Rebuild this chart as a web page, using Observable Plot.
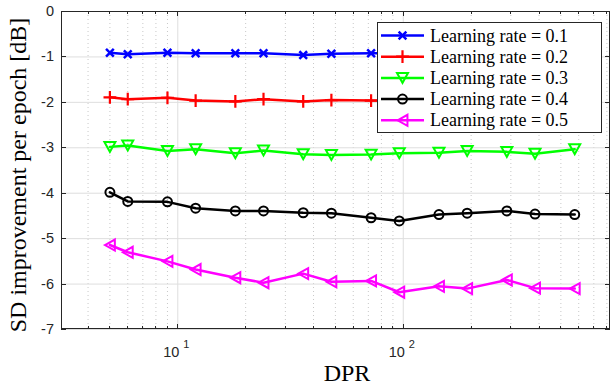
<!DOCTYPE html>
<html><head><meta charset="utf-8">
<script src="https://cdn.jsdelivr.net/npm/d3@7"></script>
<script src="https://cdn.jsdelivr.net/npm/@observablehq/plot@0.6"></script>
<style>body{margin:0;background:#fff} svg{display:block}</style>
</head><body><div id="chart"></div>
<script>
const dpr = [5, 6, 9, 12, 18, 24, 36, 48, 72, 96, 144, 192, 288, 384, 576];
const lr01 = [-0.91, -0.94, -0.91, -0.92, -0.92, -0.92, -0.96, -0.93, -0.92, -0.92, -0.93, -0.92, -0.93, -0.92, -0.92];
const lr02 = [-1.89, -1.93, -1.90, -1.96, -1.98, -1.93, -1.98, -1.95, -1.96, -1.96, -1.95, -1.96, -1.97, -1.96, -1.96];
const lr03 = [-2.98, -2.95, -3.07, -3.03, -3.12, -3.06, -3.14, -3.16, -3.15, -3.12, -3.11, -3.07, -3.09, -3.13, -3.03];
const lr04 = [-3.98, -4.18, -4.19, -4.33, -4.39, -4.39, -4.43, -4.44, -4.54, -4.61, -4.47, -4.44, -4.39, -4.46, -4.47];
const lr05 = [-5.14, -5.30, -5.50, -5.68, -5.86, -5.97, -5.77, -5.95, -5.93, -6.18, -6.05, -6.10, -5.91, -6.09, -6.10];
const names = ["Learning rate = 0.1", "Learning rate = 0.2", "Learning rate = 0.3", "Learning rate = 0.4", "Learning rate = 0.5"];
const colors = ["#0000ff", "#ff0000", "#00ff00", "#000000", "#ff00ff"];
const xMajorTicks = [10, 100];
const xTickExp = [1, 2];
const xMinorTicks = [4, 5, 6, 7, 8, 9, 20, 30, 40, 50, 60, 70, 80, 90, 200, 300, 400, 500, 600, 700, 800];
const yTicks = [0, -1, -2, -3, -4, -5, -6, -7];

const series = [lr01, lr02, lr03, lr04, lr05];
const rows = [];
series.forEach((vals, i) => dpr.forEach((d, j) => rows.push({dpr: d, sd: vals[j], name: names[i]})));

const triDown = {draw(c, size) { const r = Math.sqrt(size / Math.PI); c.moveTo(-r, -r * 0.9); c.lineTo(r, -r * 0.9); c.lineTo(0, r * 0.9); c.closePath(); }};
const triLeft = {draw(c, size) { const r = Math.sqrt(size / Math.PI); c.moveTo(-r * 0.9, 0); c.lineTo(r * 0.9, -r); c.lineTo(r * 0.9, r); c.closePath(); }};
const symbols = [d3.symbolTimes, d3.symbolPlus, triDown, d3.symbolCircle, triLeft];
const radii = [3.6, 4.2, 5.5, 4.5, 5.5];
const mWidths = [2.5, 2.2, 2, 2, 2];

const W = 611, H = 387, ML = 61, MR = 1, MT = 11, MB = 58;

const marks = [
  Plot.ruleX(xMinorTicks, {stroke: "#c8c8c8", strokeDasharray: "1,3", strokeWidth: 1}),
  Plot.ruleX(xMajorTicks, {stroke: "#dedede", strokeWidth: 1}),
  Plot.ruleY(yTicks, {stroke: "#dedede", strokeWidth: 1}),
  Plot.line(rows, {x: "dpr", y: "sd", z: "name", stroke: "name", strokeWidth: 2.5})
];
names.forEach((n, i) => {
  marks.push(Plot.dot(rows.filter(r => r.name === n), {x: "dpr", y: "sd", stroke: "name", symbol: symbols[i], r: radii[i], strokeWidth: mWidths[i], fill: "none"}));
});

const plot = Plot.plot({
  width: W, height: H,
  marginLeft: ML, marginRight: MR, marginTop: MT, marginBottom: MB,
  style: {background: "#fff", overflow: "visible"},
  x: {type: "log", domain: [3.05, 830], axis: null},
  y: {domain: [-7, 0], axis: null},
  color: {domain: names, range: colors},
  marks
});

const svg = d3.select(plot);
const xs = plot.scale("x"), ys = plot.scale("y");
const x0 = ML, x1 = W - MR, y0 = H - MB, y1 = MT;
const axisColor = "#262626";
const g = svg.append("g").attr("stroke", axisColor).attr("stroke-width", 1).attr("fill", "none");
g.append("rect").attr("x", x0 + 0.5).attr("y", y1 + 0.5).attr("width", x1 - x0 - 1).attr("height", y0 - y1 - 1);
xMajorTicks.forEach(v => { const px = Math.round(xs.apply(v)) + 0.5;
  g.append("line").attr("x1", px).attr("x2", px).attr("y1", y0).attr("y2", y0 - 5);
  g.append("line").attr("x1", px).attr("x2", px).attr("y1", y1).attr("y2", y1 + 5); });
xMinorTicks.forEach(v => { const px = Math.round(xs.apply(v)) + 0.5;
  g.append("line").attr("x1", px).attr("x2", px).attr("y1", y0).attr("y2", y0 - 3);
  g.append("line").attr("x1", px).attr("x2", px).attr("y1", y1).attr("y2", y1 + 3); });
yTicks.forEach(v => { const py = Math.round(ys.apply(v)) + 0.5;
  g.append("line").attr("x1", x0).attr("x2", x0 + 5).attr("y1", py).attr("y2", py);
  g.append("line").attr("x1", x1).attr("x2", x1 - 5).attr("y1", py).attr("y2", py); });
const tl = svg.append("g").attr("fill", axisColor).attr("font-family", "'Liberation Sans', Arial, sans-serif").attr("font-size", 14.5);
yTicks.forEach(v => tl.append("text").attr("x", x0 - 7).attr("y", ys.apply(v) + 5).attr("text-anchor", "end").text(String(v)));
xMajorTicks.forEach((v, i) => {
  const t = tl.append("text").attr("x", xs.apply(v) - 1).attr("y", 357).attr("text-anchor", "middle");
  t.append("tspan").text("10");
  t.append("tspan").attr("dx", 4).attr("dy", -9).attr("font-size", 11).text(String(xTickExp[i]));
});
const serif = "'Liberation Serif', 'Times New Roman', serif";
svg.append("text").attr("x", 347).attr("y", 381).attr("text-anchor", "middle").attr("font-family", serif).attr("font-size", 24).attr("fill", "#000").text("DPR");
svg.append("text").attr("transform", "translate(26,175) rotate(-90)").attr("text-anchor", "middle").attr("font-family", serif).attr("font-size", 24).attr("fill", "#000").text("SD improvement per epoch [dB]");
const lg = svg.append("g");
lg.append("rect").attr("x", 377.5).attr("y", 22.5).attr("width", 224).attr("height", 110).attr("fill", "#fff").attr("stroke", axisColor).attr("stroke-width", 1);
names.forEach((n, i) => {
  const yy = 35.5 + i * 21.2;
  lg.append("line").attr("x1", 381).attr("x2", 424).attr("y1", yy).attr("y2", yy).attr("stroke", colors[i]).attr("stroke-width", 2.5);
  lg.append("path").attr("d", d3.symbol(symbols[i], radii[i] * radii[i] * Math.PI)()).attr("transform", `translate(402.5,${yy})`).attr("fill", "none").attr("stroke", colors[i]).attr("stroke-width", mWidths[i]);
  lg.append("text").attr("x", 430).attr("y", yy + 6).attr("text-anchor", "start").attr("font-family", serif).attr("font-size", 18).attr("fill", "#000").text(n);
});
document.getElementById("chart").appendChild(plot);
</script>
</body></html>
